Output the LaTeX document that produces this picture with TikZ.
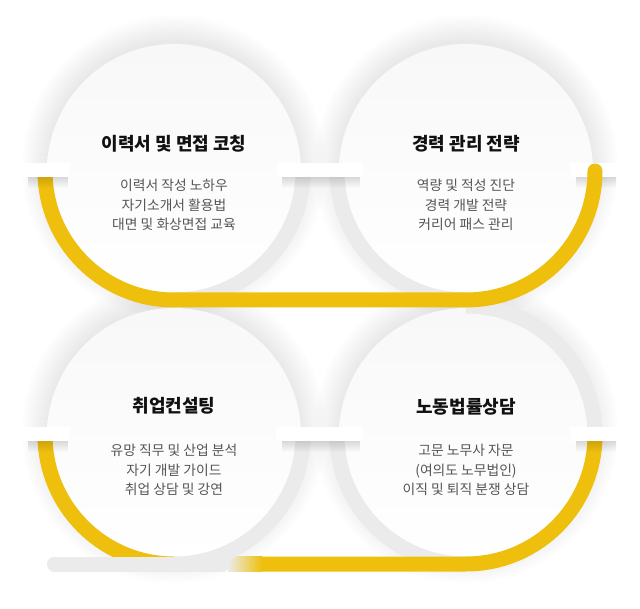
\documentclass[tikz,border=0pt]{standalone}
\usepackage{fontspec}
\setmainfont{Noto Sans CJK KR}
\usetikzlibrary{calc,fadings}
\definecolor{ylw}{HTML}{EFBF0E}
\definecolor{trk}{HTML}{EBEBEB}
\definecolor{txt}{HTML}{555555}
\definecolor{ttl}{HTML}{111111}
\definecolor{discTop}{HTML}{F8F8F8}
\tikzfading[name=fadedown, top color=transparent!0, bottom color=transparent!100]
\begin{document}
\begin{tikzpicture}[x=1pt,y=-1pt,
  disc/.style={circle, inner sep=0pt, minimum size=254pt, top color=discTop, bottom color=white, draw=none},
  ttlnode/.style={font=\bfseries\fontsize{18}{21}\selectfont, text=ttl},
  bodynode/.style={font=\fontsize{13.8}{19.5}\selectfont, text=txt, align=center},
  track/.style={line width=15pt, draw=trk},
  prog/.style={line width=15pt, draw=ylw},
  tabbox/.style={fill=white, draw=none, inner sep=0pt, minimum height=14pt},
  tabshade/.style={fill=black, opacity=0.14, path fading=fadedown},
]
\useasboundingbox (0,0) rectangle (640,609);
\fill[white] (0,0) rectangle (640,609);

% soft shadows of the discs
\foreach \cx/\cy in {174/171,466/171,174/435,466/435}{
  \foreach \r in {127,129.5,...,152}{
    \fill[black,opacity=0.007] (\cx,\cy-4) circle (\r);
  }
}

% discs
\node[disc] (c1) at (174,171) {};
\node[disc] (c2) at (466,171) {};
\node[disc] (c3) at (174,435) {};
\node[disc] (c4) at (466,435) {};

% grey tracks
\draw[track] ($(c4)+(0,-129)$) arc[start angle=-90, end angle=0, radius=129];
\draw[track] ($(c4)+(-129,0)$) arc[start angle=180, end angle=90, radius=129];
\draw[track] ($(c1)+(129,0)$) arc[start angle=0, end angle=90, radius=129];
\draw[track] ($(c2)+(-129,0)$) arc[start angle=180, end angle=90, radius=129];

% row 1 progress
\node[tabbox, minimum width=50pt] (tR1) at (595,170) {};
\fill[tabshade] (576,177) rectangle (616,188);
\draw[prog, line cap=round] ($(c1)+(-129,0)$) arc[start angle=180, end angle=90, radius=129]
  -- ($(c2)+(0,129)$) arc[start angle=90, end angle=0, radius=129];

% row 2 progress
\draw[prog] ($(c3)+(-129,0)$) arc[start angle=180, end angle=90, radius=129];
\coordinate (barL) at (54.5,564);
\coordinate (barM) at (222,564);
\draw[track, line cap=round] (barL) -- (barM);
\shade[left color=trk, right color=ylw] (228,556.5) rectangle (262,571.5);
\coordinate (barY) at (261,564);
\draw[prog] (barY) -- ($(c4)+(0,129)$) arc[start angle=90, end angle=0, radius=129];
\draw[track] ($(c3)+(129,0)$) arc[start angle=0, end angle=90, radius=129];

% tabs
\node[tabbox, minimum width=50pt] (tL1) at (45,170) {};
\fill[tabshade] (28,177) rectangle (68,188);
\node[tabbox, minimum width=86pt] (tM1) at (320,170) {};
\fill[tabshade] (282,177) rectangle (360,188);
\node[tabbox, minimum width=50pt] (tL2) at (45,434) {};
\fill[tabshade] (28,441) rectangle (68,452);
\node[tabbox, minimum width=87pt] (tM2) at (319.5,434) {};
\fill[tabshade] (282,441) rectangle (360,452);
\node[tabbox, minimum width=50pt] (tR2) at (595,434) {};
\fill[tabshade] (576,441) rectangle (616,452);

% texts
\node[ttlnode] (h1) at (174,144) {이력서 및 면접 코칭};
\node[bodynode] (d1) at (174,205) {이력서 작성 노하우\\자기소개서 활용법\\대면 및 화상면접 교육};
\node[ttlnode] (h2) at (466,144) {경력 관리 전략};
\node[bodynode] (d2) at (466,205) {역량 및 적성 진단\\경력 개발 전략\\커리어 패스 관리};
\node[ttlnode] (h3) at (174,406) {취업컨설팅};
\node[bodynode] (d3) at (174,470) {유망 직무 및 산업 분석\\자기 개발 가이드\\취업 상담 및 강연};
\node[ttlnode] (h4) at (466,407) {노동법률상담};
\node[bodynode] (d4) at (466,470) {고문 노무사 자문\\(여의도 노무법인)\\이직 및 퇴직 분쟁 상담};
\end{tikzpicture}
\end{document}
